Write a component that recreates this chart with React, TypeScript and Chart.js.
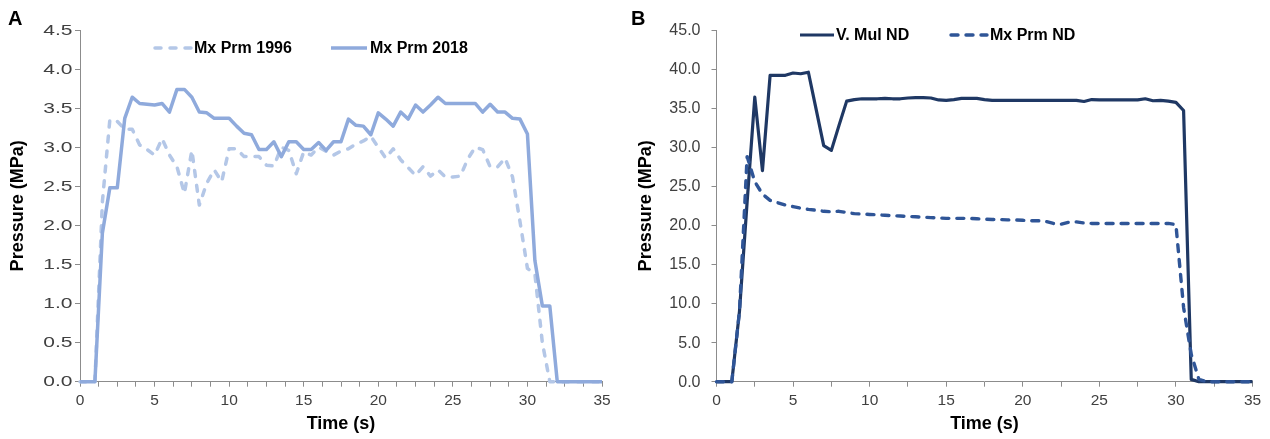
import React, { useEffect, useRef } from 'react';
import { Chart, registerables } from 'chart.js';

Chart.register(...registerables);

// ---------- data ----------
const TIME = [
  0, 0.5, 1, 1.5, 2, 2.5, 3, 3.5, 4, 4.5,
  5, 5.5, 6, 6.5, 7, 7.5, 8, 8.5, 9, 9.5,
  10, 10.5, 11, 11.5, 12, 12.5, 13, 13.5, 14, 14.5,
  15, 15.5, 16, 16.5, 17, 17.5, 18, 18.5, 19, 19.5,
  20, 20.5, 21, 21.5, 22, 22.5, 23, 23.5, 24, 24.5,
  25, 25.5, 26, 26.5, 27, 27.5, 28, 28.5, 29, 29.5,
  30, 30.5, 31, 31.5, 32, 32.5, 33, 33.5, 34, 34.5,
  35,
];

// Panel A
const MX_PRM_1996 = [
  0, 0, 0, 2.3, 3.35, 3.33, 3.23, 3.23, 3.03, 2.97,
  2.9, 3.11, 2.9, 2.75, 2.41, 2.96, 2.26, 2.54, 2.71, 2.56,
  2.98, 2.98, 2.88, 2.88, 2.88, 2.77, 2.76, 3.0, 2.96, 2.66,
  2.94, 2.9, 3.0, 2.95, 2.9, 2.95, 2.98, 3.04, 3.08, 3.14,
  3.0, 2.86, 2.98, 2.84, 2.74, 2.64, 2.75, 2.63, 2.71, 2.62,
  2.62, 2.63, 2.85, 3.0, 2.97, 2.75, 2.75, 2.86, 2.62, 2.05,
  1.45, 1.38, 0.5, 0, 0, 0, 0, 0, 0, 0,
  0,
];
const MX_PRM_2018 = [
  0, 0, 0, 1.9, 2.48, 2.48, 3.37, 3.64, 3.56, 3.55,
  3.54, 3.56, 3.45, 3.74, 3.74, 3.64, 3.45, 3.44, 3.37, 3.37,
  3.37, 3.27, 3.18, 3.16, 2.97, 2.97, 3.07, 2.88, 3.07, 3.07,
  2.97, 2.97, 3.06, 2.96, 3.07, 3.07, 3.36, 3.28, 3.27, 3.16,
  3.44, 3.36, 3.27, 3.45, 3.36, 3.54, 3.45, 3.54, 3.64, 3.56,
  3.56, 3.56, 3.56, 3.56, 3.45, 3.55, 3.45, 3.45, 3.37, 3.36,
  3.17, 1.55, 0.97, 0.97, 0, 0, 0, 0, 0, 0,
  0,
];

// Panel B
const V_MUL_ND = [
  0, 0, 0, 9, 23, 36.4, 27.0, 39.2, 39.2, 39.2,
  39.5, 39.4, 39.6, 34.9, 30.2, 29.6, 32.8, 35.9, 36.1, 36.2,
  36.2, 36.2, 36.25, 36.2, 36.2, 36.3, 36.35, 36.35, 36.3, 36.05,
  36.0, 36.1, 36.25, 36.25, 36.25, 36.1, 36.0, 36.0, 36.0, 36.0,
  36.0, 36.0, 36.0, 36.0, 36.0, 36.0, 36.0, 36.0, 35.85, 36.1,
  36.05, 36.05, 36.05, 36.05, 36.05, 36.05, 36.2, 35.95, 36.0, 35.9,
  35.75, 34.7, 0.3, 0, 0, 0, 0, 0, 0, 0,
  0,
];
const MX_PRM_ND = [
  0, 0, 0, 9, 28.8, 25.6, 24.0, 23.2, 22.9, 22.6,
  22.4, 22.2, 22.05, 21.95, 21.8, 21.75, 21.8, 21.65, 21.5, 21.45,
  21.4, 21.35, 21.3, 21.25, 21.2, 21.15, 21.1, 21.05, 21.0, 20.95,
  20.9, 20.9, 20.9, 20.9, 20.85, 20.8, 20.75, 20.75, 20.7, 20.7,
  20.65, 20.6, 20.6, 20.5, 20.25, 20.15, 20.4, 20.45, 20.3, 20.25,
  20.25, 20.25, 20.25, 20.25, 20.25, 20.25, 20.25, 20.25, 20.25, 20.25,
  20.1, 9.5, 3.5, 0.3, 0, 0, 0, 0, 0, 0,
  0,
];

const X_LABELS = [0, 5, 10, 15, 20, 25, 30, 35];
const Y_LABELS_A = [0, 0.5, 1, 1.5, 2, 2.5, 3, 3.5, 4, 4.5];
const Y_LABELS_B = [0, 5, 10, 15, 20, 25, 30, 35, 40, 45];

// ---------- styling ----------
const H = 439;
const AXIS_COLOR = '#8c8c8c';
const TICK_COLOR = '#404040';
const FONT = '"Liberation Sans", Arial, sans-serif';

type Series = {
  label: string;
  values: number[];
  color: string;
  width: number;
  dash: number[];
  order: number;
  legend: { x1: number; x2: number; tx: number; y: number };
};

type PanelSpec = {
  letter: string;
  letterX: number;
  canvasLeft: number;
  canvasWidth: number;
  areaLeft: number;
  areaRight: number;
  yMax: number;
  yStep: number;
  yLabels: number[];
  yLabelRight: number;
  yLabelSize: number;
  yLabelStretch: number;
  xStep: number;
  yTitlePad: number;
  series: Series[];
};

const PANELS: PanelSpec[] = [
  {
    letter: 'A',
    letterX: 8,
    canvasLeft: 0,
    canvasWidth: 630,
    areaLeft: 80,
    areaRight: 602,
    yMax: 4.5,
    yStep: 0.5,
    yLabels: Y_LABELS_A,
    yLabelRight: 72.5,
    yLabelSize: 15,
    yLabelStretch: 1.4,
    xStep: 1.25,
    yTitlePad: 7,
    series: [
      {
        label: 'Mx Prm 1996', values: MX_PRM_1996, color: '#b4c7e7', width: 3.5,
        dash: [6, 9], order: 1, legend: { x1: 155, x2: 191, tx: 194, y: 48 },
      },
      {
        label: 'Mx Prm 2018', values: MX_PRM_2018, color: '#8faadc', width: 3.5,
        dash: [], order: 0, legend: { x1: 331, x2: 367, tx: 370, y: 48 },
      },
    ],
  },
  {
    letter: 'B',
    letterX: 1,
    canvasLeft: 630,
    canvasWidth: 640,
    areaLeft: 86.5,
    areaRight: 622.5,
    yMax: 45,
    yStep: 5,
    yLabels: Y_LABELS_B,
    yLabelRight: 70.5,
    yLabelSize: 16,
    yLabelStretch: 1,
    xStep: 2.5,
    yTitlePad: 5,
    series: [
      {
        label: 'V. Mul ND', values: V_MUL_ND, color: '#1f3864', width: 3.2,
        dash: [], order: 1, legend: { x1: 170, x2: 204, tx: 206, y: 35 },
      },
      {
        label: 'Mx Prm ND', values: MX_PRM_ND, color: '#2f5597', width: 3.4,
        dash: [7, 8], order: 0, legend: { x1: 321, x2: 357, tx: 360, y: 35 },
      },
    ],
  },
];

function makeOverlay(p: PanelSpec) {
  return {
    id: 'overlay' + p.letter,
    afterDraw(chart: any) {
      const ctx = chart.ctx as CanvasRenderingContext2D;
      ctx.save();
      // panel letter
      ctx.fillStyle = '#000';
      ctx.font = `bold 20px ${FONT}`;
      ctx.textAlign = 'left';
      ctx.textBaseline = 'alphabetic';
      ctx.fillText(p.letter, p.letterX, 25);

      // y tick labels
      const ys = chart.scales.y;
      ctx.font = `${p.yLabelSize}px ${FONT}`;
      ctx.fillStyle = TICK_COLOR;
      ctx.textBaseline = 'middle';
      ctx.textAlign = 'right';
      for (const v of p.yLabels) {
        const t = v.toFixed(1);
        ctx.save();
        ctx.translate(p.yLabelRight, ys.getPixelForValue(v) + 0.5);
        ctx.scale(p.yLabelStretch, 1);
        ctx.fillText(t, 0, 0);
        ctx.restore();
      }

      // legend
      ctx.textAlign = 'left';
      for (const s of p.series) {
        ctx.beginPath();
        ctx.strokeStyle = s.color;
        ctx.lineWidth = s.width;
        ctx.lineCap = s.dash.length ? 'round' : 'butt';
        ctx.setLineDash(s.dash);
        ctx.moveTo(s.legend.x1, s.legend.y);
        ctx.lineTo(s.legend.x2, s.legend.y);
        ctx.stroke();
        ctx.setLineDash([]);
        ctx.fillStyle = '#000';
        ctx.font = `bold 16px ${FONT}`;
        ctx.textBaseline = 'middle';
        ctx.fillText(s.label, s.legend.tx, s.legend.y + 1);
      }
      ctx.restore();
    },
  };
}

function makeConfig(p: PanelSpec): any {
  const areaBottom = 381.7;
  return {
    type: 'line',
    data: {
      datasets: p.series.map((s) => ({
        label: s.label,
        data: TIME.map((t, i) => ({ x: t, y: s.values[i] })),
        borderColor: s.color,
        backgroundColor: s.color,
        borderWidth: s.width,
        borderDash: s.dash,
        borderCapStyle: s.dash.length ? 'round' : 'butt',
        borderJoinStyle: 'round',
        pointRadius: 0,
        pointHoverRadius: 0,
        tension: 0,
        fill: false,
        clip: false,
        order: s.order,
      })),
    },
    options: {
      responsive: false,
      animation: false,
      devicePixelRatio: 1,
      events: [],
      layout: {
        padding: { left: 0, top: 30, right: p.canvasWidth - p.areaRight, bottom: 0 },
      },
      plugins: {
        legend: { display: false },
        tooltip: { enabled: false },
        title: { display: false },
      },
      scales: {
        x: {
          type: 'linear',
          min: 0,
          max: 35,
          afterFit: (s: any) => { s.height = H - areaBottom; },
          border: { display: true, color: AXIS_COLOR, width: 1 },
          grid: { drawOnChartArea: false, drawTicks: true, tickLength: 5, color: AXIS_COLOR, lineWidth: 1 },
          ticks: {
            stepSize: p.xStep,
            autoSkip: false,
            maxRotation: 0,
            padding: 5,
            color: TICK_COLOR,
            font: { family: FONT, size: 15.5 },
            callback: (v: number) => (X_LABELS.includes(v) ? String(v) : ''),
          },
          title: {
            display: true,
            text: 'Time (s)',
            color: '#000',
            font: { family: FONT, size: 18, weight: 'bold' },
            padding: { top: 0, bottom: 4 },
          },
        },
        y: {
          type: 'linear',
          min: 0,
          max: p.yMax,
          afterFit: (s: any) => { s.width = p.areaLeft; },
          border: { display: true, color: AXIS_COLOR, width: 1 },
          grid: { drawOnChartArea: false, drawTicks: true, tickLength: 5, color: AXIS_COLOR, lineWidth: 1 },
          ticks: {
            stepSize: p.yStep,
            autoSkip: false,
            padding: 3,
            color: TICK_COLOR,
            font: { family: FONT, size: 15 },
            callback: () => '',
          },
          title: {
            display: true,
            text: 'Pressure (MPa)',
            color: '#000',
            font: { family: FONT, size: 18, weight: 'bold' },
            padding: { top: p.yTitlePad, bottom: 0 },
          },
        },
      },
    },
    plugins: [makeOverlay(p)],
  };
}

function Panel({ spec }: { spec: PanelSpec }) {
  const ref = useRef<HTMLCanvasElement>(null);
  useEffect(() => {
    if (!ref.current) return;
    const chart = new Chart(ref.current, makeConfig(spec));
    return () => chart.destroy();
  }, [spec]);
  return (
    <div style={{ position: 'absolute', left: spec.canvasLeft, top: 0, width: spec.canvasWidth, height: H }}>
      <canvas ref={ref} width={spec.canvasWidth} height={H} style={{ display: 'block', width: spec.canvasWidth, height: H }} />
    </div>
  );
}

export default function App() {
  return (
    <div style={{ position: 'absolute', left: 0, top: 0, width: 1270, height: H, background: '#fff', overflow: 'hidden' }}>
      {PANELS.map((p) => (
        <Panel key={p.letter} spec={p} />
      ))}
    </div>
  );
}
